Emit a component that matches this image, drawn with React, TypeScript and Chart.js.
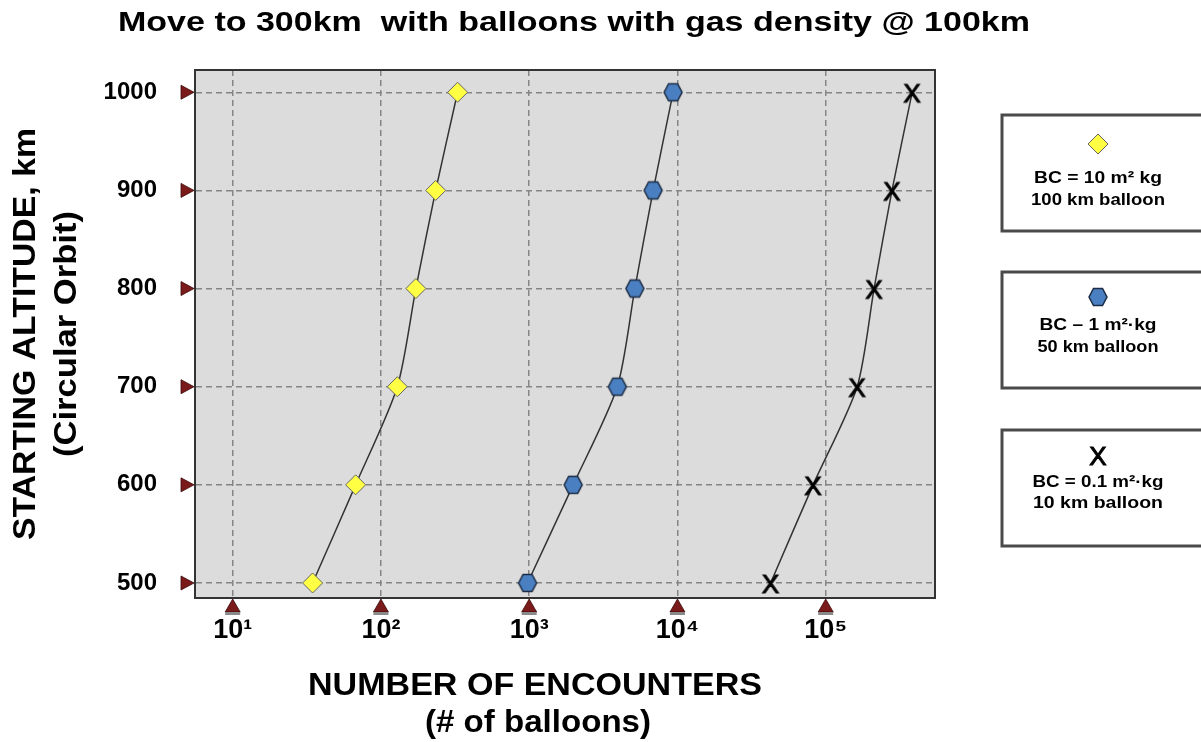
import React, { useEffect, useRef } from "react";
import { Chart, registerables } from "chart.js";

Chart.register(...registerables);

// ---- data ----
const altitudes = [500, 600, 700, 800, 900, 1000];
const bc10Encounters = [34.6, 67.5, 129, 172, 234, 329];
const bc1Encounters = [975, 1980, 3930, 5160, 6860, 9350];
const bc01Encounters = [42500, 82200, 163000, 212000, 280000, 383000];
const xTickValues = [10, 100, 1000, 10000, 100000];
const xTickLabels = ["10¹", "10²", "10³", "10⁴", "10⁵"];
const yTickValues = [500, 600, 700, 800, 900, 1000];
const legendLines = [
  ["BC = 10 m² kg", "100 km balloon"],
  ["BC – 1 m²·kg", "50 km balloon"],
  ["BC = 0.1 m²·kg", "10 km balloon"],
];
const titleText = "Move to 300km  with balloons with gas density @ 100km";
const xTitle = ["NUMBER OF ENCOUNTERS", "(# of balloons)"];
const yTitle = ["STARTING ALTITUDE, km", "(Circular Orbit)"];

const FONT = "'Liberation Sans', Arial, sans-serif";

function makeHex(): HTMLCanvasElement {
  const c = document.createElement("canvas");
  c.width = 22;
  c.height = 22;
  const g = c.getContext("2d")!;
  const cx = 11, cy = 11, rx = 9, ry = 8.6;
  g.beginPath();
  g.moveTo(cx - rx, cy);
  g.lineTo(cx - rx / 2, cy - ry);
  g.lineTo(cx + rx / 2, cy - ry);
  g.lineTo(cx + rx, cy);
  g.lineTo(cx + rx / 2, cy + ry);
  g.lineTo(cx - rx / 2, cy + ry);
  g.closePath();
  g.fillStyle = "#4a7fc1";
  g.fill();
  g.lineWidth = 1.5;
  g.strokeStyle = "#1c2c44";
  g.stroke();
  return c;
}

function makeX(): HTMLCanvasElement {
  const c = document.createElement("canvas");
  c.width = 26;
  c.height = 26;
  const g = c.getContext("2d")!;
  g.font = `26px ${FONT}`;
  g.textAlign = "center";
  g.textBaseline = "alphabetic";
  g.fillStyle = "#000";
  g.strokeStyle = "#000";
  g.lineWidth = 1;
  g.fillText("X", 13, 22.5);
  g.strokeText("X", 13, 22.5);
  return c;
}

function fitText(
  ctx: CanvasRenderingContext2D,
  text: string,
  cx: number,
  y: number,
  width: number,
  font: string,
  rotate = false
) {
  ctx.save();
  ctx.font = font;
  const m = ctx.measureText(text).width;
  const s = width / m;
  ctx.translate(cx, y);
  if (rotate) ctx.rotate(-Math.PI / 2);
  ctx.scale(s, 1);
  ctx.textAlign = "center";
  ctx.textBaseline = "alphabetic";
  ctx.fillStyle = "#000";
  ctx.fillText(text, 0, 0);
  ctx.restore();
}

export default function App() {
  const ref = useRef<HTMLCanvasElement | null>(null);

  useEffect(() => {
    if (!ref.current) return;
    const hexImg = makeHex();
    const xImg = makeX();

    const decorPlugin = {
      id: "decor",
      beforeDraw(chart: any) {
        const { ctx, chartArea: a } = chart;
        ctx.save();
        ctx.fillStyle = "#ffffff";
        ctx.fillRect(0, 0, chart.width, chart.height);
        ctx.fillStyle = "#dcdcdc";
        ctx.fillRect(a.left, a.top, a.right - a.left, a.bottom - a.top);
        ctx.restore();
      },
      afterDraw(chart: any) {
        const { ctx, chartArea: a } = chart;
        const xs = chart.scales.x;
        const ys = chart.scales.y;
        ctx.save();
        // frame
        ctx.strokeStyle = "#333";
        ctx.lineWidth = 2;
        ctx.strokeRect(a.left, a.top, a.right - a.left, a.bottom - a.top);
        // tick triangles
        ctx.strokeStyle = "#3a0a0a";
        ctx.lineWidth = 0.8;
        yTickValues.forEach((v) => {
          const py = ys.getPixelForValue(v);
          ctx.fillStyle = "#7a1a1a";
          ctx.beginPath();
          ctx.moveTo(a.left - 14, py - 7);
          ctx.lineTo(a.left - 14, py + 7);
          ctx.lineTo(a.left - 1, py);
          ctx.closePath();
          ctx.fill();
          ctx.stroke();
        });
        xTickValues.forEach((v) => {
          const px = xs.getPixelForValue(v);
          ctx.fillStyle = "#7a1a1a";
          ctx.beginPath();
          ctx.moveTo(px - 7.5, a.bottom + 14);
          ctx.lineTo(px + 7.5, a.bottom + 14);
          ctx.lineTo(px, a.bottom + 1);
          ctx.closePath();
          ctx.fill();
          ctx.stroke();
          ctx.fillStyle = "#8a8a8a";
          ctx.fillRect(px - 7.5, a.bottom + 14, 15, 3);
        });
        ctx.restore();

        // titles
        fitText(ctx, titleText, 574, 31, 912, `bold 28px ${FONT}`);
        fitText(ctx, xTitle[0], 535, 695, 454, `bold 32px ${FONT}`);
        fitText(ctx, xTitle[1], 538, 732, 226, `bold 32px ${FONT}`);
        fitText(ctx, yTitle[0], 35, 334, 412, `bold 32px ${FONT}`, true);
        fitText(ctx, yTitle[1], 76, 334, 246, `bold 32px ${FONT}`, true);

        // legend boxes
        const boxes = [
          { top: 115, marker: 144, l1: 183, l2: 205, w1: 128, w2: 134 },
          { top: 272, marker: 297, l1: 330, l2: 352, w1: 117, w2: 121 },
          { top: 430, marker: 455, l1: 487, l2: 508, w1: 131, w2: 130 },
        ];
        const cx = 1098;
        boxes.forEach((b, i) => {
          ctx.save();
          ctx.fillStyle = "#ffffff";
          ctx.fillRect(1002, b.top, 220, 116);
          ctx.strokeStyle = "#4a4a4a";
          ctx.lineWidth = 3;
          ctx.strokeRect(1002, b.top, 220, 116);
          if (i === 0) {
            ctx.beginPath();
            ctx.moveTo(cx, b.marker - 10);
            ctx.lineTo(cx + 10, b.marker);
            ctx.lineTo(cx, b.marker + 10);
            ctx.lineTo(cx - 10, b.marker);
            ctx.closePath();
            ctx.fillStyle = "#ffff44";
            ctx.fill();
            ctx.lineWidth = 1;
            ctx.strokeStyle = "#666";
            ctx.stroke();
          } else if (i === 1) {
            ctx.drawImage(hexImg, cx - 11, b.marker - 11);
          } else {
            ctx.drawImage(xImg, cx - 13, b.marker - 13);
          }
          ctx.restore();
          fitText(ctx, legendLines[i][0], cx, b.l1, b.w1, `bold 17px ${FONT}`);
          fitText(ctx, legendLines[i][1], cx, b.l2, b.w2, `bold 17px ${FONT}`);
        });
      },
    };

    const toPts = (vals: number[]) => altitudes.map((alt, i) => ({ x: vals[i], y: alt }));

    const chart = new Chart(ref.current, {
      type: "line",
      data: {
        datasets: [
          {
            label: legendLines[0].join(" "),
            data: toPts(bc10Encounters),
            borderColor: "#333",
            borderWidth: 1.5,
            tension: 0.25,
            pointStyle: "rectRot",
            pointRadius: 10,
            pointBackgroundColor: "#ffff44",
            pointBorderColor: "#666",
            pointBorderWidth: 1,
          },
          {
            label: legendLines[1].join(" "),
            data: toPts(bc1Encounters),
            borderColor: "#333",
            borderWidth: 1.5,
            tension: 0.25,
            pointStyle: hexImg as any,
            pointRadius: 9,
          },
          {
            label: legendLines[2].join(" "),
            data: toPts(bc01Encounters),
            borderColor: "#333",
            borderWidth: 1.5,
            tension: 0.25,
            pointStyle: xImg as any,
            pointRadius: 9,
          },
        ],
      },
      options: {
        responsive: false,
        animation: false,
        layout: { padding: { top: 70, right: 266, left: 0, bottom: 0 } },
        plugins: {
          legend: { display: false },
          title: { display: false },
          tooltip: { enabled: false },
        },
        scales: {
          x: {
            type: "logarithmic",
            min: 5.57,
            max: 546000,
            afterBuildTicks: (s: any) => {
              s.ticks = xTickValues.map((v) => ({ value: v }));
            },
            afterFit: (s: any) => {
              s.height = 144;
            },
            ticks: {
              autoSkip: false,
              maxRotation: 0,
              padding: 16,
              color: "#000",
              font: { family: FONT, size: 27, weight: "bold" },
              callback: (v: any) => {
                const i = xTickValues.indexOf(Number(v));
                return i >= 0 ? xTickLabels[i] : "";
              },
            },
            grid: { color: "#858585", lineWidth: 1.5, drawTicks: false },
            border: { display: true, color: "#333", width: 2, dash: [6, 4] },
          },
          y: {
            type: "linear",
            min: 484.7,
            max: 1022.7,
            afterBuildTicks: (s: any) => {
              s.ticks = yTickValues.map((v) => ({ value: v }));
            },
            afterFit: (s: any) => {
              s.width = 195;
            },
            ticks: {
              autoSkip: false,
              padding: 38,
              color: "#000",
              font: { family: FONT, size: 24, weight: "bold" },
              callback: (v: any) => String(v),
            },
            grid: { color: "#858585", lineWidth: 1.5, drawTicks: false },
            border: { display: true, color: "#333", width: 2, dash: [6, 4] },
          },
        },
      },
      plugins: [decorPlugin],
    });
    return () => chart.destroy();
  }, []);

  return (
    <div style={{ position: "absolute", left: 0, top: 0, width: 1201, height: 742, background: "#fff" }}>
      <canvas ref={ref} width={1201} height={742} style={{ display: "block" }} />
    </div>
  );
}
